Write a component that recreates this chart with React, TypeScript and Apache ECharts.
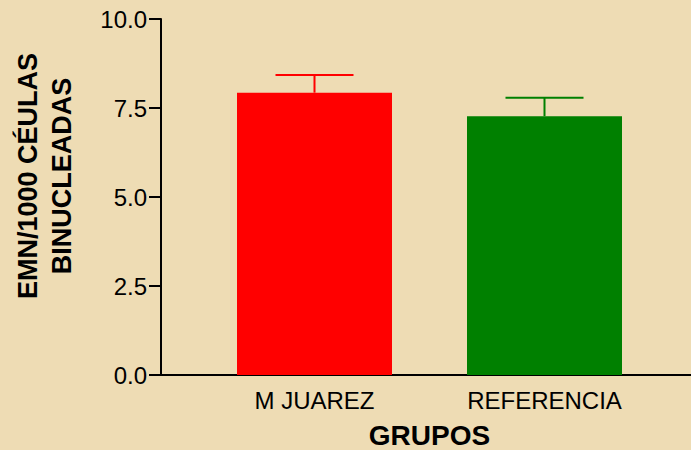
import React, { useEffect, useRef } from "react";
import * as echarts from "echarts";

const categories = ["M JUAREZ", "REFERENCIA"];
const means = [7.93, 7.27];
const errors = [0.5, 0.52];
const barColors = ["#ff0000", "#008000"];
const yTicks = { min: 0, max: 10, interval: 2.5 };
const yTitle = "EMN/1000 CÉULAS\nBINUCLEADAS";
const xTitle = "GRUPOS";

const FONT = "'Liberation Sans', Arial, Helvetica, sans-serif";

export default function App() {
  const ref = useRef<HTMLDivElement>(null);
  useEffect(() => {
    if (!ref.current) return;
    const chart = echarts.init(ref.current, undefined, { renderer: "svg" });
    const option: any = {
      animation: false,
      backgroundColor: "#eedcb4",
      grid: [
        { left: 199.5, right: 31.5, top: 19, bottom: 75, outerBoundsMode: "none", containLabel: false },
        { left: 161, right: 0, top: 19, bottom: 75, outerBoundsMode: "none", containLabel: false },
      ],
      xAxis: [
        {
          type: "category",
          gridIndex: 0,
          data: categories,
          axisLine: { show: false },
          axisTick: { show: false },
          axisLabel: { color: "#000", fontSize: 24, fontFamily: FONT, margin: 13 },
          name: xTitle,
          nameLocation: "middle",
          nameGap: 48,
          nameTextStyle: {
            color: "#000",
            fontSize: 28,
            lineHeight: 24,
            fontWeight: "bold",
            fontFamily: FONT,
          },
        },
        {
          type: "value",
          gridIndex: 1,
          min: 0,
          max: 1,
          axisLine: { show: true, lineStyle: { color: "#000", width: 2 } },
          axisTick: { show: false },
          axisLabel: { show: false },
          splitLine: { show: false },
        },
      ],
      yAxis: [
        {
          type: "value",
          gridIndex: 0,
          min: yTicks.min,
          max: yTicks.max,
          interval: yTicks.interval,
          offset: 38.5,
          axisLine: { show: true, lineStyle: { color: "#000", width: 2 } },
          axisTick: { show: true, length: 12, lineStyle: { color: "#000", width: 2 } },
          axisLabel: {
            color: "#000",
            fontSize: 24,
            fontFamily: FONT,
            margin: 14,
            formatter: (v: number) => v.toFixed(1),
          },
          splitLine: { show: false },
        },
        {
          type: "value",
          gridIndex: 1,
          min: yTicks.min,
          max: yTicks.max,
          show: false,
        },
      ],
      graphic: [
        {
          type: "text",
          x: 45,
          y: 176,
          rotation: Math.PI / 2,
          style: {
            text: yTitle,
            font: `bold 27px ${FONT}`,
            fill: "#000",
            align: "center",
            verticalAlign: "middle",
            lineHeight: 34,
          },
        },
      ],
      series: [
        {
          type: "bar",
          xAxisIndex: 0,
          yAxisIndex: 0,
          barWidth: 155,
          data: means.map((v, i) => ({ value: v, itemStyle: { color: barColors[i] } })),
          z: 2,
        },
        {
          type: "custom",
          xAxisIndex: 0,
          yAxisIndex: 0,
          z: 3,
          data: means.map((m, i) => [i, m, errors[i]]),
          renderItem: (params: any, api: any) => {
            const idx = api.value(0);
            const m = api.value(1);
            const e = api.value(2);
            const p0 = api.coord([idx, m]);
            const p1 = api.coord([idx, m + e]);
            const color = barColors[params.dataIndex];
            const style = { stroke: color, lineWidth: 2 };
            return {
              type: "group",
              children: [
                { type: "line", shape: { x1: p0[0], y1: p0[1], x2: p1[0], y2: p1[1] }, style },
                { type: "line", shape: { x1: p1[0] - 39, y1: p1[1], x2: p1[0] + 39, y2: p1[1] }, style },
              ],
            };
          },
        },
      ],
    };
    chart.setOption(option);
    return () => chart.dispose();
  }, []);
  return (
    <div
      ref={ref}
      style={{ position: "fixed", left: 0, top: 0, width: 691, height: 450 }}
    />
  );
}
